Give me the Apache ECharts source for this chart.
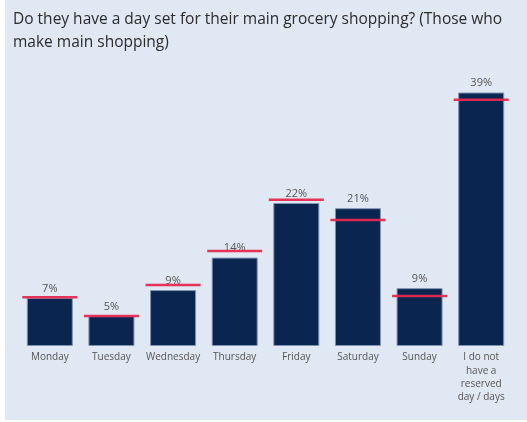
<!DOCTYPE html>
<html>
<head>
<meta charset="utf-8">
<script src="https://cdn.jsdelivr.net/npm/echarts@6/dist/echarts.min.js"></script>
<style>
  html, body { margin: 0; padding: 0; background: #ffffff; }
  #wrap { position: absolute; left: 5px; top: 0; width: 522px; height: 420px; background: #dfe8f3; }
  #chart { width: 522px; height: 420px; }
</style>
</head>
<body>
<div id="wrap"><div id="chart"></div></div>
<script>
// Day on which the main grocery shopping is done
const categories = ['Monday', 'Tuesday', 'Wednesday', 'Thursday', 'Friday', 'Saturday', 'Sunday',
  'I do not\nhave a\nreserved\nday / days'];
// Share of respondents (%)
const shares = [7.4, 4.6, 8.6, 13.6, 22.0, 21.2, 8.9, 39.0];
// Comparison level shown as a red marker on each bar (%)
const benchmarks = [7.5, 4.6, 9.4, 14.6, 22.5, 19.4, 7.7, 37.9];

const titleText = 'Do they have a day set for their main grocery shopping? (Those who\nmake main shopping)';

const chart = echarts.init(document.getElementById('chart'), null, { renderer: 'canvas' });
chart.setOption({
  backgroundColor: '#dfe8f3',
  animation: false,
  title: {
    text: titleText,
    left: 3,
    top: 3,
    textStyle: {
      fontFamily: 'Open Sans',
      fontSize: 15.5,
      fontWeight: 'normal',
      color: '#2b2b2b',
      lineHeight: 23
    }
  },
  grid: { left: 14, right: 15, top: 86, bottom: 74 },
  xAxis: {
    type: 'category',
    data: categories,
    axisLine: { show: false },
    axisTick: { show: false },
    axisLabel: {
      interval: 0,
      margin: 5,
      fontFamily: 'Open Sans',
      fontSize: 10,
      color: '#555555',
      lineHeight: 13.3,
      verticalAlign: 'top'
    }
  },
  yAxis: {
    type: 'value',
    min: 0,
    max: 40,
    show: false,
    splitLine: { show: false }
  },
  series: [
    {
      type: 'bar',
      data: shares,
      barWidth: 46,
      itemStyle: { color: '#0b2551', borderColor: '#7f93b5', borderWidth: 1 },
      label: {
        show: true,
        position: 'top',
        distance: 4,
        fontFamily: 'Open Sans',
        fontSize: 11,
        color: '#555555',
        formatter: p => Math.round(p.value) + '%'
      },
      z: 2
    },
    {
      type: 'scatter',
      data: benchmarks,
      symbol: 'rect',
      symbolSize: [55, 2.5],
      itemStyle: { color: '#e8294f', opacity: 0.95 },
      z: 3
    }
  ]
});
</script>
</body>
</html>
